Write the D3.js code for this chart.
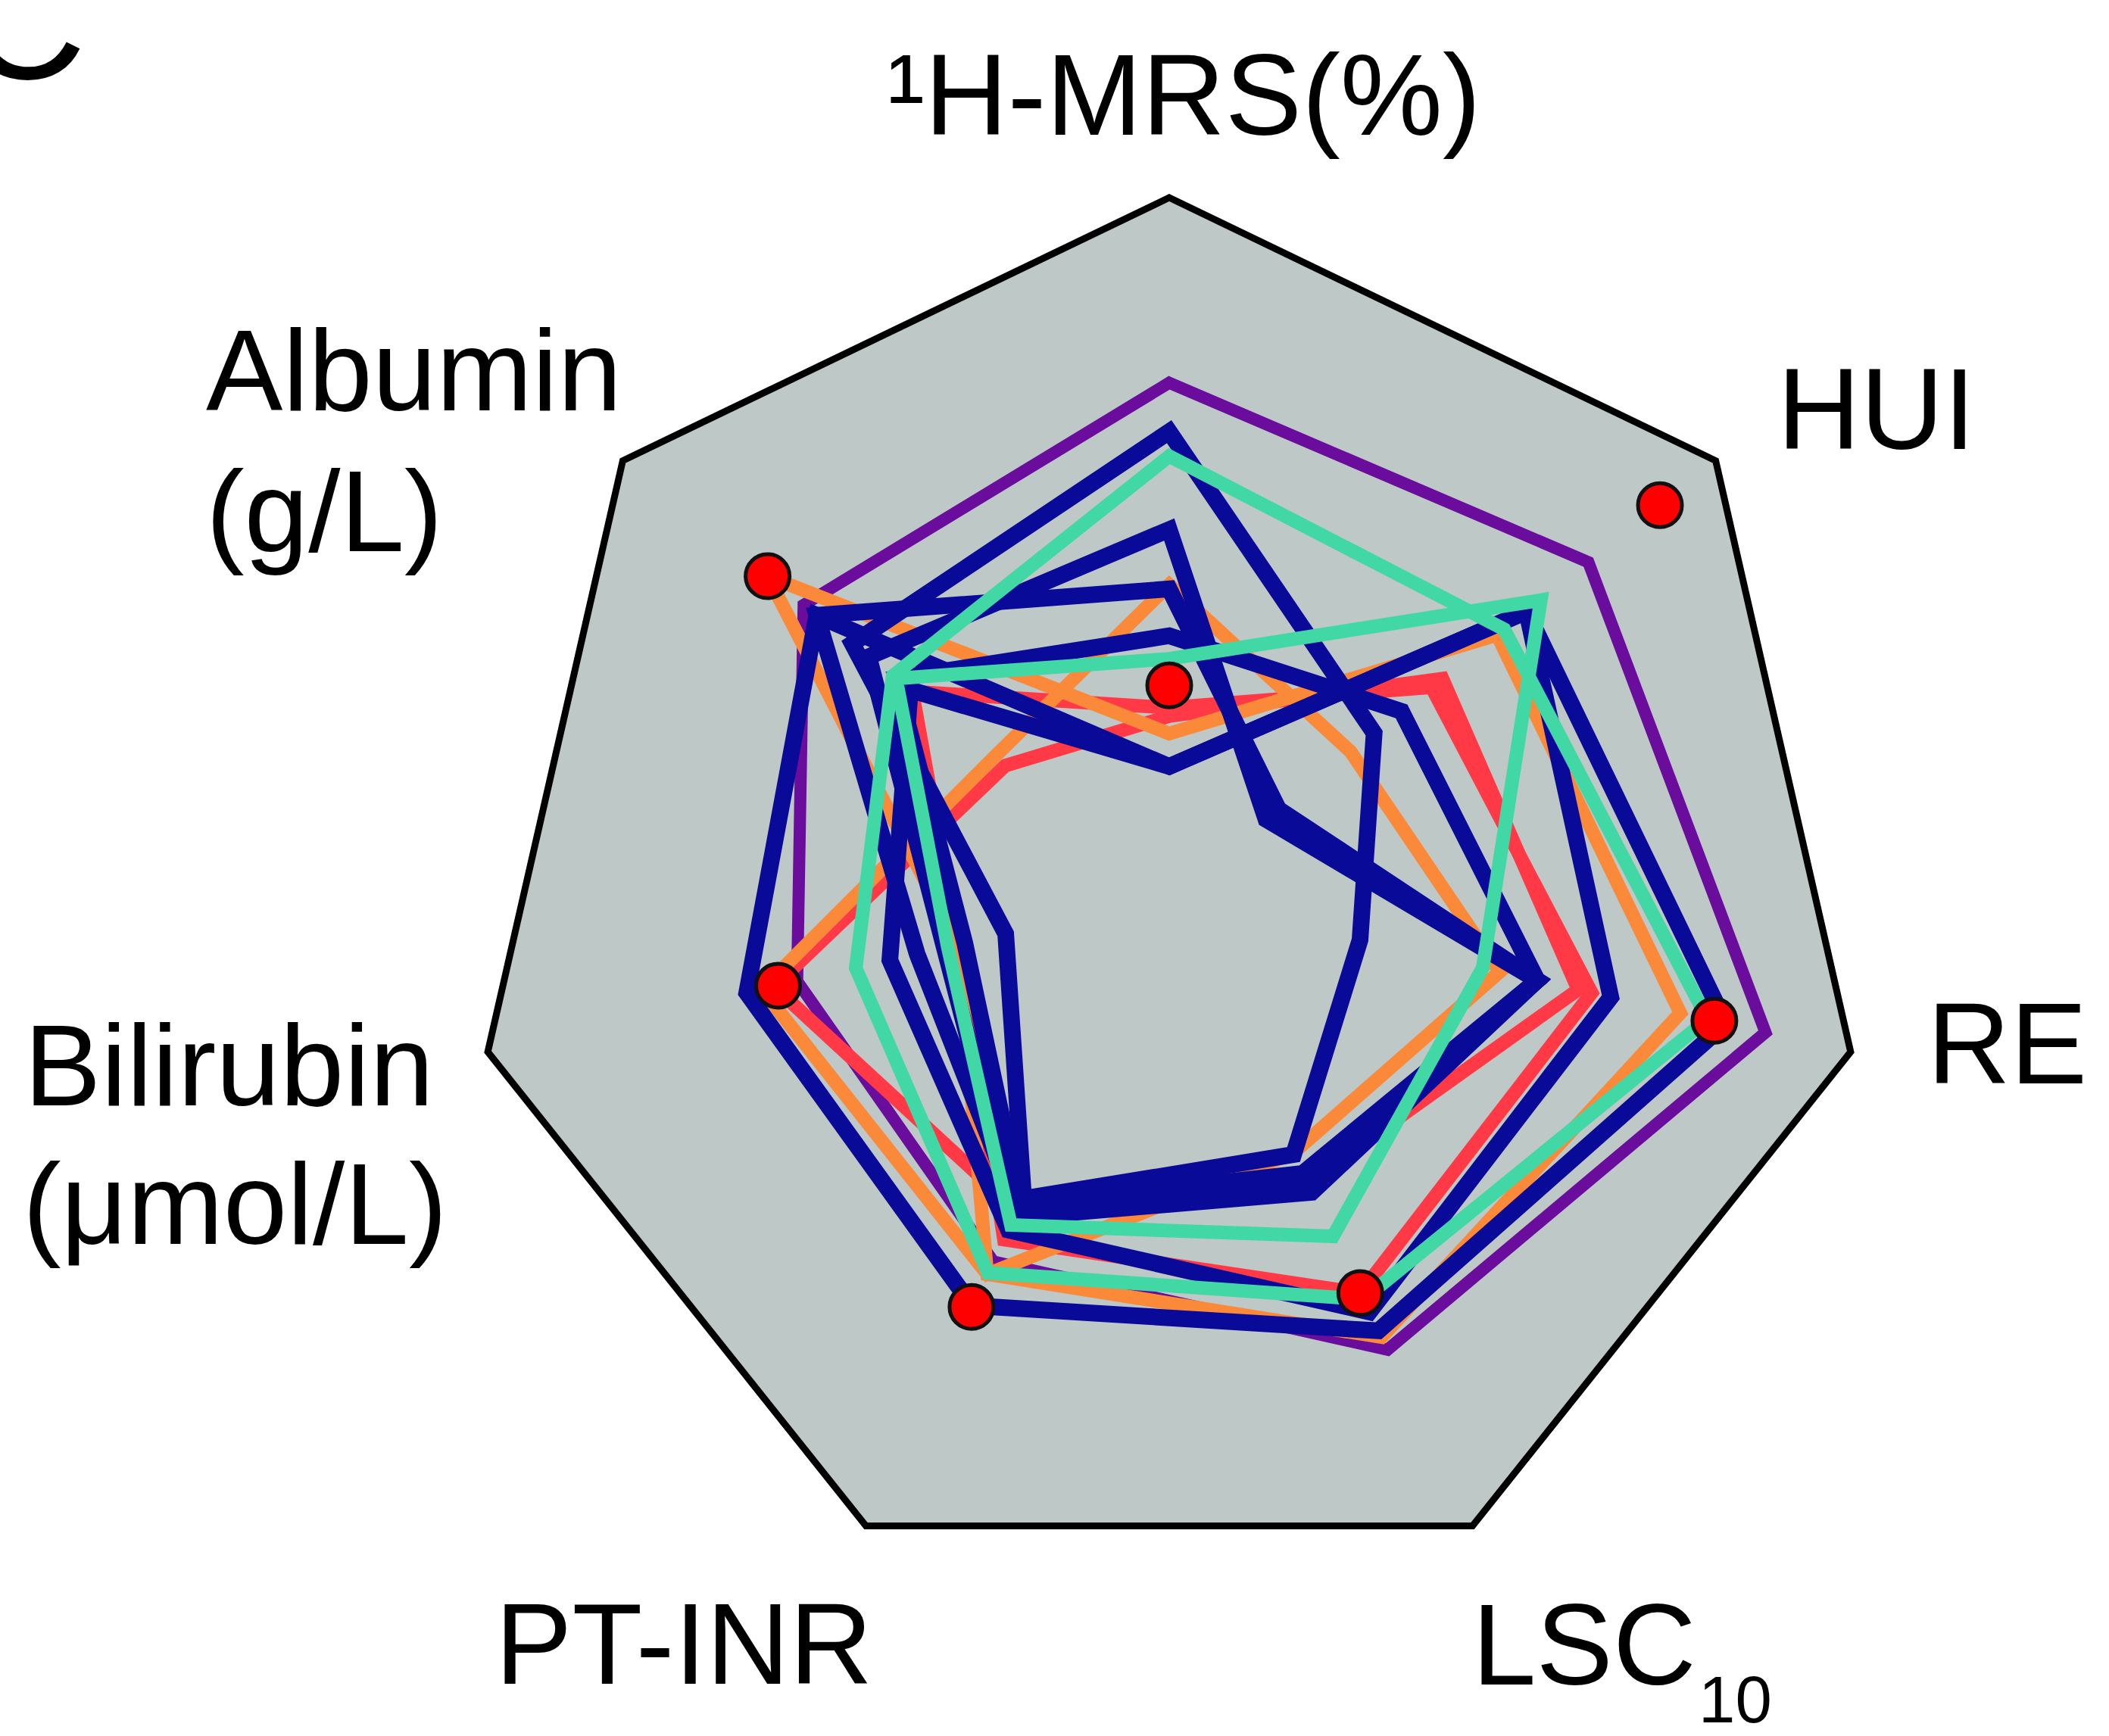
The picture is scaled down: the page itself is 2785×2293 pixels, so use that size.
<!DOCTYPE html>
<html><head><meta charset="utf-8">
<script src="https://cdn.jsdelivr.net/npm/d3@7"></script>
<style>html,body{margin:0;padding:0;background:#fff;} svg{display:block;}</style>
</head><body>
<svg id="chart" width="2785" height="2293"></svg>
<script>
// ---- data (values normalised 0..1 along each axis) ----
const axes = ["1H-MRS(%)", "HUI", "RE", "LSC10", "PT-INR", "Bilirubin", "Albumin"];
const purple  = [0.735, 0.767, 0.875, 0.72, 0.58, 0.546, 0.669];
const red1    = [0.258, 0.50, 0.60, 0.455, 0.50, 0.58, 0.30];
const red2    = [0.27, 0.48, 0.62, 0.63, 0.545, 0.31, 0.47];
const orange1 = [0.233, 0.60, 0.75, 0.70, 0.60, 0.31, 0.735];
const orange2 = [0.446, 0.332, 0.485, 0.408, 0.60, 0.598, 0.32];
const blue1   = [0.665, 0.375, 0.28, 0.41, 0.48, 0.24, 0.58];
const blue2   = [0.525, 0.177, 0.54, 0.47, 0.51, 0.33, 0.55];
const blue3   = [0.186, 0.654, 0.817, 0.69, 0.65, 0.62, 0.645];
const blue4   = [0.44, 0.20, 0.54, 0.45, 0.50, 0.37, 0.645];
const blue5   = [0.186, 0.654, 0.648, 0.66, 0.53, 0.41, 0.474];
const blue6   = [0.373, 0.425, 0.54, 0.44, 0.49, 0.30, 0.50];
const teal1   = [0.63, 0.613, 0.79, 0.64, 0.598, 0.46, 0.506];
const teal2   = [0.34, 0.68, 0.46, 0.54, 0.522, 0.325, 0.50];
const patientDots = [0.302, 0.898, 0.80, 0.63, 0.652, 0.574, 0.735];
const frameVals = [1, 1, 1, 1, 1, 1, 1];

// ---- styles ----
const C_PURPLE = "#6a0c9c", C_RED = "#ff3a46", C_ORANGE = "#fa8a3a",
      C_BLUE = "#0a0a98", C_TEAL = "#42d8a6";
const layers = [
  {v: purple,  c: C_PURPLE, w: 16},
  {v: red2,    c: C_RED,    w: 18},
  {v: red1,    c: C_RED,    w: 18},
  {v: orange1, c: C_ORANGE, w: 18},
  {v: orange2, c: C_ORANGE, w: 18},
  {v: blue1,   c: C_BLUE,   w: 22},
  {v: blue2,   c: C_BLUE,   w: 22},
  {v: blue3,   c: C_BLUE,   w: 22},
  {v: blue4,   c: C_BLUE,   w: 22},
  {v: blue5,   c: C_BLUE,   w: 22},
  {v: blue6,   c: C_BLUE,   w: 22},
  {v: teal1,   c: C_TEAL,   w: 18},
  {v: teal2,   c: C_TEAL,   w: 18}
];

const svg = d3.select("#chart");
const cx = 1544, cy = 1184, R = 923;
const r = d3.scaleLinear().domain([0, 1]).range([0, R]);
const ang = d3.scaleLinear().domain([0, axes.length]).range([0, 2 * Math.PI]);
const g = svg.append("g").attr("transform", `translate(${cx},${cy})`);

const radial = d3.lineRadial()
  .angle((d, i) => ang(i))
  .radius(d => r(d))
  .curve(d3.curveLinearClosed);

g.append("path").datum(frameVals)
  .attr("d", radial)
  .attr("fill", "#bec8c7")
  .attr("stroke", "#000")
  .attr("stroke-width", 9)
  .attr("stroke-linejoin", "miter");

g.selectAll("path.series").data(layers).join("path")
  .attr("class", "series")
  .attr("d", d => radial(d.v))
  .attr("fill", "none")
  .attr("stroke", d => d.c)
  .attr("stroke-width", d => d.w)
  .attr("stroke-linejoin", "miter")
  .attr("stroke-miterlimit", 10);

const pt = (v, i) => [r(v) * Math.sin(ang(i)), -r(v) * Math.cos(ang(i))];
g.selectAll("circle.dot").data(patientDots).join("circle")
  .attr("class", "dot")
  .attr("cx", (d, i) => pt(d, i)[0])
  .attr("cy", (d, i) => pt(d, i)[1])
  .attr("r", 29)
  .attr("fill", "#ff0000")
  .attr("stroke", "#111")
  .attr("stroke-width", 5);

// ---- labels ----
const FONT = "'Liberation Sans', Arial, Helvetica, sans-serif";
const lab = svg.append("g").attr("font-family", FONT).attr("fill", "#000").attr("font-size", 152);
lab.append("text").attr("x", 1563).attr("y", 178).attr("text-anchor", "middle").text("\u00B9H-MRS(%)");
lab.append("text").attr("x", 2347).attr("y", 593).text("HUI");
lab.append("text").attr("x", 2545).attr("y", 1431).text("RE");
lab.append("text").attr("x", 1944).attr("y", 2225).text("LSC");
lab.append("text").attr("x", 2243).attr("y", 2275).attr("font-size", 87).text("10");
lab.append("text").attr("x", 654).attr("y", 2224).text("PT-INR");
lab.append("text").attr("x", 32).attr("y", 1460).text("Bilirubin");
lab.append("text").attr("x", 30).attr("y", 1643).text("(\u03BCmol/L)");
lab.append("text").attr("x", 272).attr("y", 542).text("Albumin");
lab.append("text").attr("x", 272).attr("y", 728).text("(g/L)");
// panel letter, cropped by the top-left edge as in the source figure
svg.append("text").attr("x", -52).attr("y", 104).attr("font-family", FONT)
  .attr("font-size", 230).attr("fill", "#000").text("C");
</script>
</body></html>
